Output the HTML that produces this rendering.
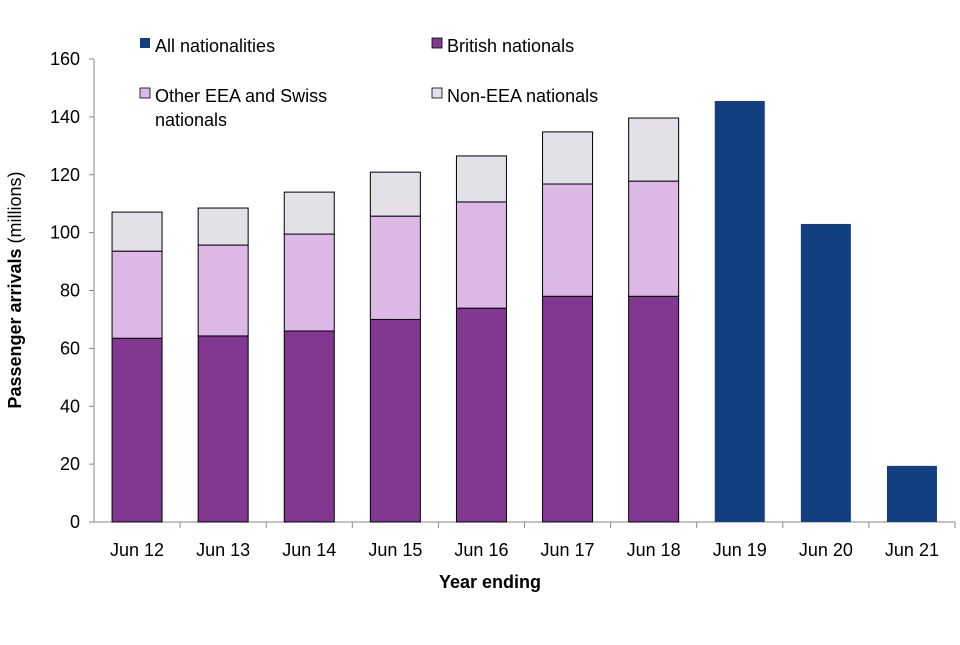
<!DOCTYPE html>
<html><head><meta charset="utf-8"><style>
body{margin:0;background:#fff;}
svg text{font-family:"Liberation Sans",Arial,sans-serif;fill:#000;}
</style></head><body>
<svg id="chart" width="960" height="640" viewBox="0 0 960 640">
<g id="axes"></g><g id="bars"></g>
<g>
<rect x="140" y="38" width="10" height="10" fill="#123f7f"/>
<text x="155" y="52" font-size="18">All nationalities</text>
<rect x="432" y="38" width="10" height="10" fill="#823890" stroke="#000" stroke-width="0.8"/>
<text x="447" y="52" font-size="18">British nationals</text>
<rect x="140" y="88" width="10" height="10" fill="#dcb8e6" stroke="#000" stroke-width="0.8"/>
<text x="155" y="102" font-size="18">Other EEA and Swiss</text>
<text x="155" y="126" font-size="18">nationals</text>
<rect x="432" y="88" width="10" height="10" fill="#e3e0e8" stroke="#000" stroke-width="0.8"/>
<text x="447" y="102" font-size="18">Non-EEA nationals</text>
</g>
<text x="490" y="588" font-size="18" font-weight="bold" text-anchor="middle">Year ending</text>
<text transform="translate(21,290) rotate(-90)" font-size="18" text-anchor="middle"><tspan font-weight="bold">Passenger arrivals</tspan> (millions)</text>
</svg>
<script>
const categories=["Jun 12","Jun 13","Jun 14","Jun 15","Jun 16","Jun 17","Jun 18","Jun 19","Jun 20","Jun 21"];
const british=[63.5,64.3,66,70,73.9,78,78,null,null,null];
const eea=[30.1,31.4,33.5,35.7,36.7,38.8,39.8,null,null,null];
const nonEea=[13.5,12.8,14.5,15.2,15.9,18,21.8,null,null,null];
const allNat=[null,null,null,null,null,null,null,145.5,103,19.4];
const yTicks=[0,20,40,60,80,100,120,140,160];
const NS="http://www.w3.org/2000/svg";
const x0=94,x1=955,yBase=522,yTop=59,yMax=160;
const band=(x1-x0)/categories.length,bw=50;
const y=v=>yBase-v/yMax*(yBase-yTop);
const xc=i=>x0+band*(i+0.5);
function mk(t,a,p){const e=document.createElementNS(NS,t);for(const k in a)e.setAttribute(k,a[k]);p.appendChild(e);return e;}
const ax=document.getElementById('axes'),bars=document.getElementById('bars');
yTicks.forEach(v=>{
 const t=mk('text',{x:80,y:y(v)+6,'font-size':18,'text-anchor':'end'},ax);t.textContent=v;
 
 
 const l=mk('line',{x1:89,x2:94,y1:y(v),y2:y(v),stroke:'#888'},ax);
 
 
});
const ya=mk('line',{x1:94,x2:94,y1:yTop,y2:yBase,stroke:'#888'},ax);


const xa=mk('line',{x1:94,x2:x1,y1:yBase,y2:yBase,stroke:'#888'},ax);


categories.forEach((c,i)=>{
 const t=mk('text',{x:xc(i),y:556,'font-size':18,'text-anchor':'middle'},ax);t.textContent=c;
 
 
 const l=mk('line',{x1:x0+band*(i+1),x2:x0+band*(i+1),y1:yBase,y2:yBase+6,stroke:'#888'},ax);
 
 
 const left=xc(i)-bw/2;
 if(allNat[i]!=null){
  const r=mk('rect',{x:left,y:y(allNat[i]),width:bw,height:yBase-y(allNat[i]),fill:'#123f7f'},bars);
  
  
 } else {
  let base=0;
  [[british,'#823890','british'],[eea,'#dcb8e6','eea'],[nonEea,'#e3e0e8','non-eea']].forEach(([arr,col,n])=>{
   const top=base+arr[i];
   const r=mk('rect',{x:left,y:y(top),width:bw,height:y(base)-y(top),fill:col,stroke:'#000','stroke-width':1},bars);
   
   
   base=top;
  });
 }
});
</script>
</body></html>
